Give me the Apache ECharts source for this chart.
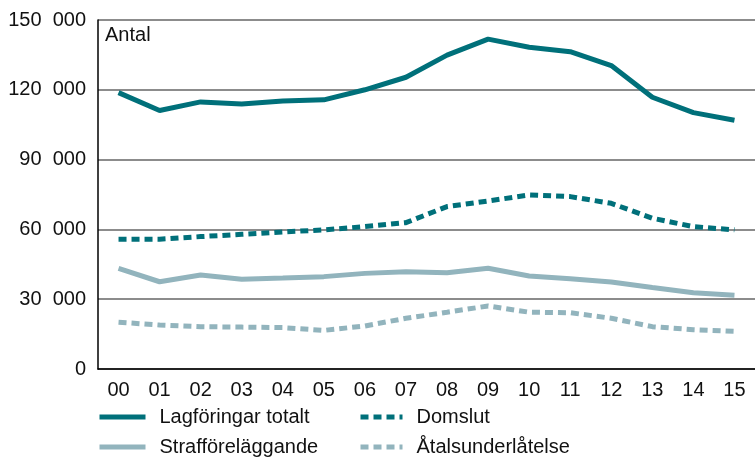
<!DOCTYPE html>
<html><head><meta charset="utf-8">
<script src="https://cdn.jsdelivr.net/npm/echarts@6/dist/echarts.min.js"></script>
<style>html,body{margin:0;padding:0;background:#fff}#c{width:755px;height:458px}</style>
</head><body><div id="c"></div>
<script>
const categories = ['00','01','02','03','04','05','06','07','08','09','10','11','12','13','14','15'];
const lagforingar = [118800,111100,114800,113900,115200,115700,120000,125400,134900,141800,138300,136400,130400,116800,110200,106900];
const domslut = [55800,55800,56900,57900,58900,59800,61200,62900,69800,72200,74800,74100,71200,64800,61200,59800];
const strafforelaggande = [43300,37500,40400,38600,39100,39700,41100,41800,41400,43300,40000,38800,37400,35000,32800,31700];
const atalsunderlatelse = [20100,18900,18200,18000,17800,16600,18500,21800,24400,27100,24400,24200,21800,18200,16900,16200];
const yTicks = [0,30000,60000,90000,120000,150000];

const dark = '#00707a', light = '#92b4bd';
const font = 'Liberation Sans, Arial, Helvetica, sans-serif';
const chart = echarts.init(document.getElementById('c'), null, {renderer:'canvas'});
const legendCommon = {orient:'vertical', top:407, itemHeight:20, itemGap:10, padding:0,
  textStyle:{fontSize:20, color:'#111', fontFamily:font, lineHeight:20, padding:[0,0,0,9]},
  lineStyle:{width:5}, itemStyle:{opacity:0, borderWidth:0}};
chart.setOption({
  animation:false,
  textStyle:{fontFamily:font},
  title:{text:'Antal', left:105, top:25, padding:0, textStyle:{fontSize:20, fontWeight:'normal', color:'#111', fontFamily:font}},
  grid:{left:98, right:-3, top:20, bottom:89, containLabel:false},
  legend:[
    Object.assign({data:['Lagföringar totalt','Strafföreläggande'], left:97, itemWidth:46}, legendCommon),
    Object.assign({data:['Domslut','Åtalsunderlåtelse'], left:358, itemWidth:42}, legendCommon)
  ],
  xAxis:{type:'category', data:categories, boundaryGap:true,
    axisLine:{show:true, lineStyle:{color:'#000', width:1.5}}, axisTick:{show:false},
    axisLabel:{fontSize:20, color:'#111', margin:11, fontFamily:font}},
  yAxis:{type:'value', min:0, max:150000, interval:30000,
    axisLine:{show:true, lineStyle:{color:'#000', width:1.5}}, axisTick:{show:false},
    splitLine:{show:true, lineStyle:{color:'#666', width:1.5}},
    axisLabel:{fontSize:20, color:'#111', margin:12, fontFamily:font,
      formatter:v => yTicks.includes(v) ? (v===0?'0':String(v).replace(/(\d)(?=(\d{3})+$)/g,'$1  ')) : ''}},
  series:[
    {name:'Lagföringar totalt', type:'line', data:lagforingar, symbol:'none', lineStyle:{color:dark, width:5}, itemStyle:{color:dark}, z:5},
    {name:'Strafföreläggande', type:'line', data:strafforelaggande, symbol:'none', lineStyle:{color:light, width:5}, itemStyle:{color:light}, z:4},
    {name:'Domslut', type:'line', data:domslut, symbol:'none', lineStyle:{color:dark, width:5, type:[8,5], cap:'butt'}, itemStyle:{color:dark}, z:3},
    {name:'Åtalsunderlåtelse', type:'line', data:atalsunderlatelse, symbol:'none', lineStyle:{color:light, width:5, type:[8,5], cap:'butt'}, itemStyle:{color:light}, z:2}
  ]
});
</script></body></html>
